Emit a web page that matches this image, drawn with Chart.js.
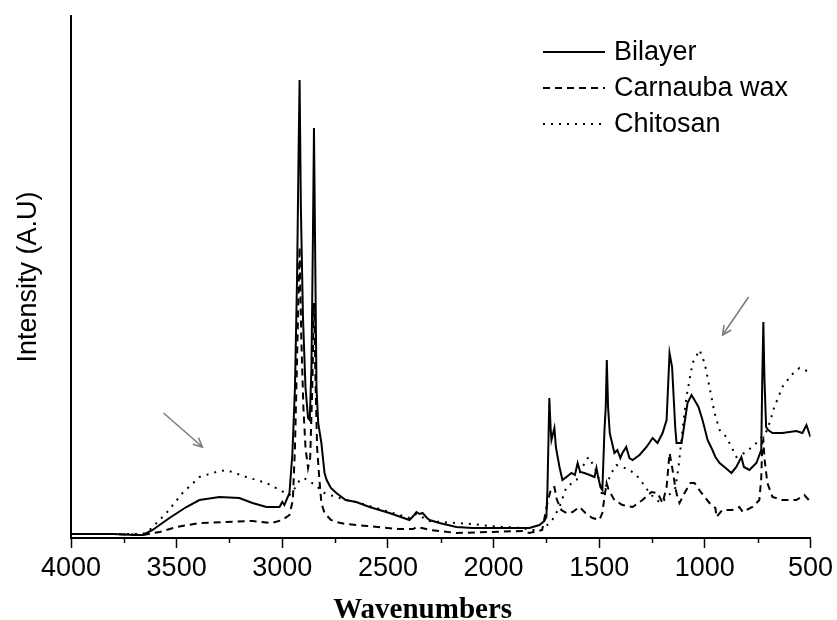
<!DOCTYPE html>
<html>
<head>
<meta charset="utf-8">
<script src="https://cdn.jsdelivr.net/npm/chart.js@4.4.1/dist/chart.umd.min.js"></script>
<style>
  html, body { margin: 0; padding: 0; background: #ffffff; }
  #wrap { width: 837px; height: 620px; }
</style>
</head>
<body>
<div id="wrap"><canvas id="c" width="837" height="620"></canvas></div>
<script>
// ---- Data (wavenumber, intensity in arbitrary units) ----
const xTicks = [4000, 3500, 3000, 2500, 2000, 1500, 1000, 500];
const seriesNames = ["Bilayer", "Carnauba wax", "Chitosan"];

const bilayerWn = [4000,3800,3700,3660,3614,3534,3454,3392,3297,3203,3141,3075,3013,3000,2990,2966,2952,2940,2930,2922,2918,2912,2902,2890,2878,2870,2862,2855,2850,2845,2838,2830,2815,2800,2790,2770,2744,2700,2650,2587,2493,2398,2380,2365,2350,2336,2315,2303,2256,2176,2100,2019,1950,1863,1830,1783,1760,1750,1745,1736,1730,1726,1718,1712,1705,1688,1674,1655,1631,1615,1602,1590,1570,1545,1522,1513,1505,1494,1485,1475,1469,1464,1458,1450,1428,1414,1400,1390,1372,1357,1342,1309,1276,1247,1224,1200,1181,1167,1155,1140,1134,1110,1096,1082,1063,1049,1030,1011,987,964,950,930,907,874,851,827,815,789,756,733,728,723,718,710,700,680,633,567,538,519,500];
const bilayerI  = [4,4,3,3,8,20,31,38,41,40,35,31,31,36,33,45,85,150,260,400,458,330,220,150,120,118,170,300,410,300,150,115,95,65,58,50,45,38,36,31,25,18,22,26,24,25,20,18,15,11,10,10,10,10,10,13,17,21,48,140,110,98,105,110,91,71,58,61,65,63,75,66,65,63,61,70,61,51,48,108,131,178,131,105,85,88,80,85,91,80,78,83,91,100,95,105,118,185,171,110,95,95,115,135,143,138,131,118,98,88,81,75,71,65,71,81,71,68,75,88,161,216,160,111,108,105,105,107,105,113,101];

const waxWn = [4000,3800,3662,3580,3500,3392,3265,3141,3050,3000,2966,2950,2940,2930,2918,2910,2900,2890,2878,2868,2858,2850,2842,2835,2825,2815,2800,2770,2744,2700,2600,2450,2380,2365,2340,2300,2176,2019,1863,1830,1770,1745,1727,1712,1700,1679,1655,1626,1593,1565,1532,1499,1485,1475,1465,1455,1428,1390,1342,1295,1253,1224,1200,1181,1167,1155,1140,1130,1120,1096,1068,1049,1016,978,950,945,917,870,837,820,775,742,733,728,723,718,704,680,633,567,529,500];
const waxI  = [4,4,3,6,11,15,16,17,15,18,23,38,90,180,291,200,130,90,70,80,150,235,150,90,60,35,25,18,16,14,12,9,9,11,10,8,5,6,7,5,8,35,50,51,38,28,25,26,31,25,20,18,25,41,55,48,38,33,31,38,46,45,35,51,85,71,51,41,35,45,55,55,45,35,30,21,28,28,31,26,31,38,60,95,98,80,55,41,38,38,43,36];

const chitosanWn = [4000,3800,3660,3628,3548,3472,3392,3312,3265,3170,3075,3013,2966,2940,2920,2900,2880,2860,2840,2820,2800,2760,2700,2650,2587,2493,2398,2365,2330,2303,2250,2176,2100,2019,1950,1863,1830,1770,1722,1688,1655,1607,1579,1551,1522,1499,1485,1470,1442,1419,1390,1357,1324,1295,1262,1229,1205,1181,1160,1140,1125,1105,1087,1058,1025,1001,978,954,930,898,874,851,813,775,742,704,671,633,591,552,505,500];
const chitosanI  = [4,4,4,8,25,45,61,66,68,61,55,48,43,50,57,60,58,55,53,48,45,42,38,36,32,26,20,24,20,17,16,15,14,12,11,10,8,8,18,31,51,58,71,81,71,58,41,51,65,73,71,68,63,55,45,38,35,41,45,50,70,110,141,175,188,175,151,125,108,101,91,81,85,91,98,108,131,151,163,170,166,166];

// ---- Annotation arrows (data coordinates: [fromWn, fromI, toWn, toI]) ----
const arrows = [[3562, 125, 3378, 91], [793, 241, 916, 203]];

function pts(wn, val) { return wn.map((w, i) => ({x: w, y: val[i]})); }

const legendPlugin = {
  id: 'customLegend',
  afterDraw(chart) {
    const ctx = chart.ctx;
    ctx.save();
    const rows = [52, 88, 124];
    chart.data.datasets.forEach((ds, i) => {
      const y = rows[i];
      ctx.beginPath();
      ctx.setLineDash(ds.borderDash || []);
      ctx.lineWidth = 2;
      ctx.strokeStyle = '#000';
      ctx.moveTo(543, y);
      ctx.lineTo(605, y);
      ctx.stroke();
      ctx.setLineDash([]);
      ctx.fillStyle = '#000';
      ctx.font = '27px "Liberation Sans", Arial, sans-serif';
      ctx.textBaseline = 'middle';
      ctx.textAlign = 'left';
      ctx.fillText(ds.label, 614, y + 1);
    });
    ctx.restore();
  }
};

const extrasPlugin = {
  id: 'extras',
  afterDraw(chart) {
    const ctx = chart.ctx;
    const xs = chart.scales.x, ys = chart.scales.y;
    ctx.save();
    // minor ticks
    ctx.strokeStyle = '#000';
    ctx.lineWidth = 1.5;
    const bottom = chart.chartArea.bottom;
    for (let v = 750; v < 4000; v += 500) {
      const px = Math.round(xs.getPixelForValue(v)) + 0.5;
      ctx.beginPath();
      ctx.moveTo(px, bottom);
      ctx.lineTo(px, bottom + 5);
      ctx.stroke();
    }
    // arrows
    ctx.strokeStyle = '#7a7a7a';
    ctx.lineWidth = 1.5;
    arrows.forEach(a => {
      const x1 = xs.getPixelForValue(a[0]), y1 = ys.getPixelForValue(a[1]);
      const x2 = xs.getPixelForValue(a[2]), y2 = ys.getPixelForValue(a[3]);
      ctx.beginPath();
      ctx.moveTo(x1, y1); ctx.lineTo(x2, y2); ctx.stroke();
      const ang = Math.atan2(y2 - y1, x2 - x1);
      const L = 10, w = 0.45;
      ctx.beginPath();
      ctx.moveTo(x2 - L * Math.cos(ang - w), y2 - L * Math.sin(ang - w));
      ctx.lineTo(x2, y2);
      ctx.lineTo(x2 - L * Math.cos(ang + w), y2 - L * Math.sin(ang + w));
      ctx.stroke();
    });
    ctx.restore();
  }
};

new Chart(document.getElementById('c'), {
  type: 'line',
  data: {
    datasets: [
      { label: seriesNames[0], data: pts(bilayerWn, bilayerI), borderColor: '#000', borderWidth: 2, borderDash: [], pointRadius: 0, tension: 0, fill: false },
      { label: seriesNames[1], data: pts(waxWn, waxI), borderColor: '#000', borderWidth: 2, borderDash: [7, 5], pointRadius: 0, tension: 0, fill: false },
      { label: seriesNames[2], data: pts(chitosanWn, chitosanI), borderColor: '#000', borderWidth: 2, borderDash: [2, 6], pointRadius: 0, tension: 0, fill: false }
    ]
  },
  options: {
    responsive: false,
    animation: false,
    devicePixelRatio: 1,
    layout: { padding: { left: 0, top: 16, right: 26, bottom: 0 } },
    plugins: { legend: { display: false }, tooltip: { enabled: false } },
    scales: {
      x: {
        type: 'linear',
        reverse: true,
        min: 500,
        max: 4000,
        afterBuildTicks: (s) => { s.ticks = xTicks.map(v => ({ value: v })); },
        afterFit: (s) => { s.height = 82; },
        ticks: { color: '#000', font: { family: '"Liberation Sans", Arial, sans-serif', size: 27 }, padding: 4, maxRotation: 0, autoSkip: false, callback: (v) => String(v) },
        grid: { display: true, drawOnChartArea: false, drawTicks: true, tickLength: 10, tickColor: '#000', tickWidth: 1.5 },
        border: { display: true, color: '#000', width: 2 },
        title: { display: true, text: 'Wavenumbers\u00a0\u00a0\u00a0\u00a0\u00a0', color: '#000', font: { family: '"Liberation Serif", "Times New Roman", serif', size: 29, weight: 'bold', lineHeight: 0.65 }, padding: { top: 0, bottom: 0 } }
      },
      y: {
        min: 0,
        max: 522,
        afterFit: (s) => { s.width = 71; },
        ticks: { display: false },
        grid: { display: false, drawTicks: false },
        border: { display: true, color: '#000', width: 2 },
        title: { display: true, text: 'Intensity (A.U)', color: '#000', font: { family: '"Liberation Sans", Arial, sans-serif', size: 27 }, padding: { top: 12, bottom: 0 } }
      }
    }
  },
  plugins: [legendPlugin, extrasPlugin]
});
</script>
</body>
</html>
